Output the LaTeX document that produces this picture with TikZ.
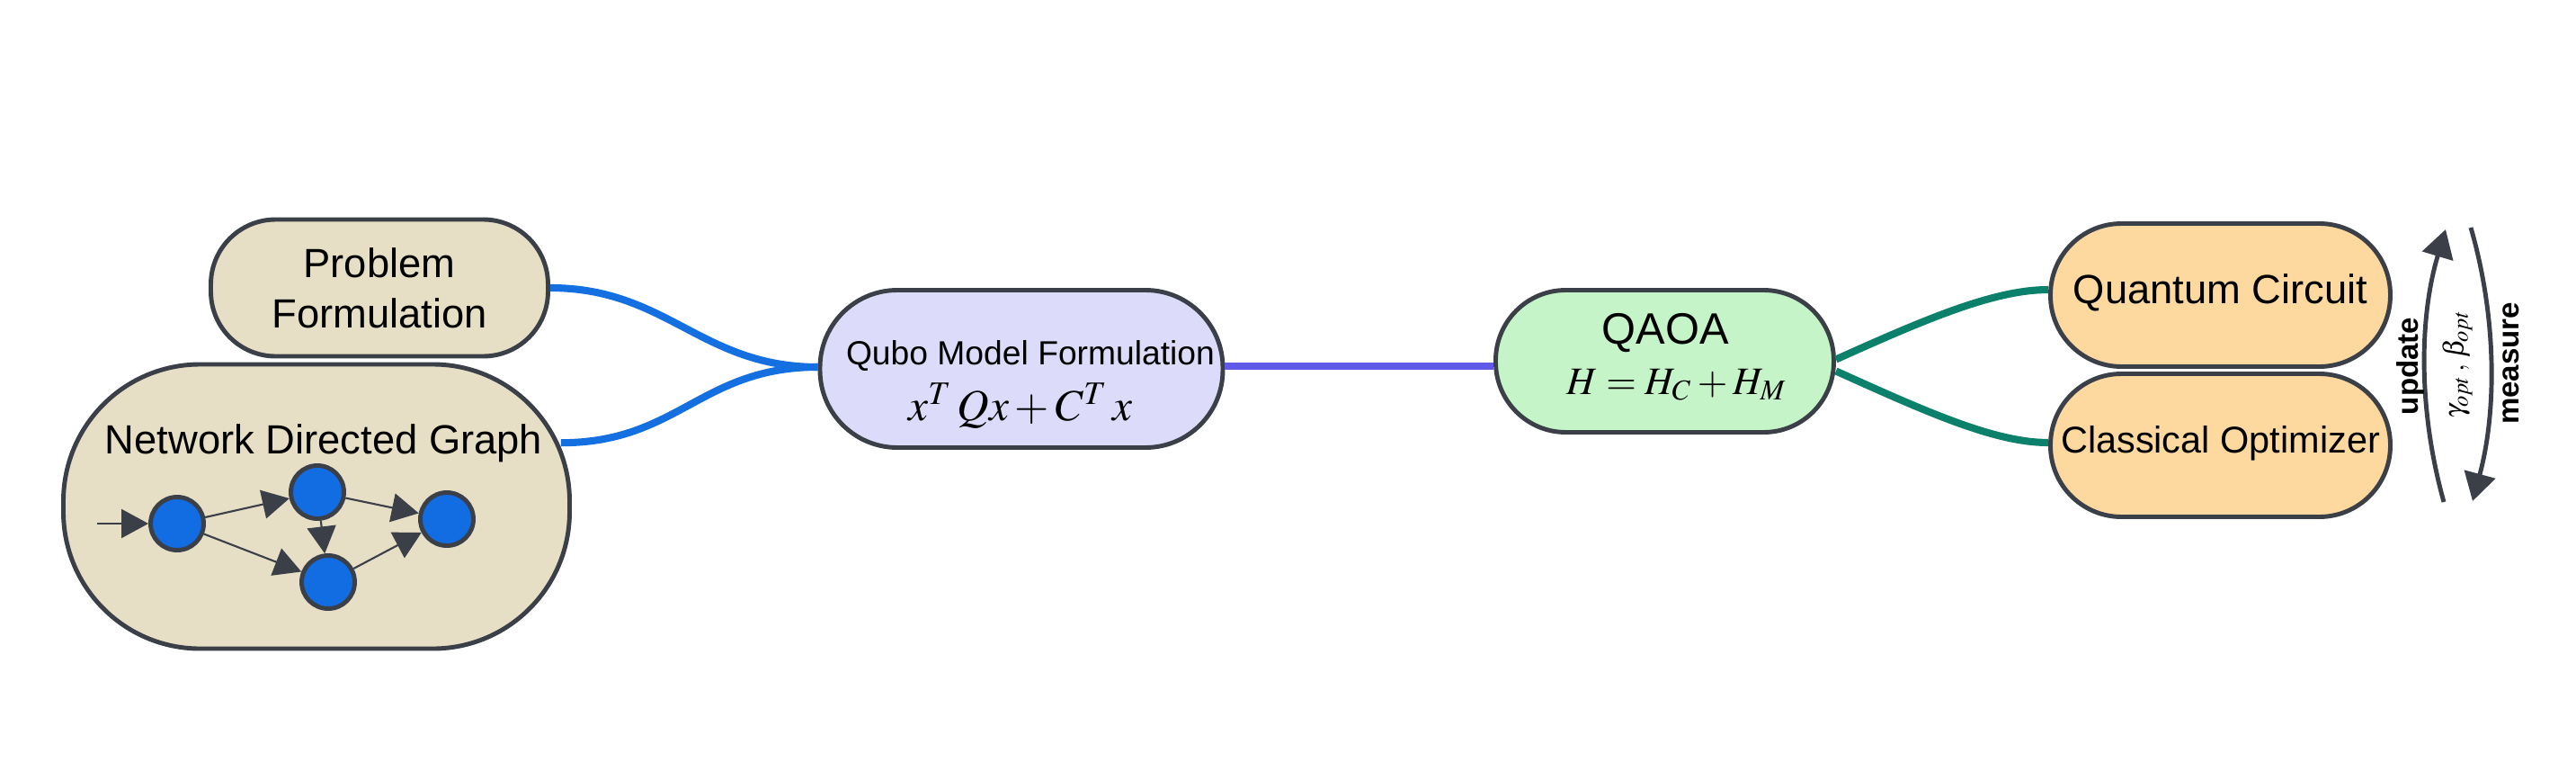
\documentclass[tikz,border=0pt]{standalone}
\usepackage{mathptmx}
\usepackage[no-math]{fontspec}
\setmainfont{Liberation Sans}
\usepackage{tikz}
\usetikzlibrary{arrows.meta,positioning,calc}

\definecolor{boxline}{HTML}{3A3F48}
\definecolor{sandfill}{HTML}{E6DFC6}
\definecolor{qubofill}{HTML}{DCDCFA}
\definecolor{qaoafill}{HTML}{C5F4C8}
\definecolor{loopfill}{HTML}{FDD9A0}
\definecolor{vertexblue}{HTML}{126CE2}
\definecolor{linkblue}{HTML}{1470E1}
\definecolor{linkpurple}{HTML}{5F5AE8}
\definecolor{linkteal}{HTML}{0B806A}

\tikzset{
  stadium/.style={rectangle, draw=boxline, line width=1.4pt, rounded corners=#1, inner sep=0pt},
  stadium/.default=0.75cm,
  vertex/.style={circle, draw=boxline, fill=vertexblue, line width=1.4pt, minimum size=0.59cm, inner sep=0pt},
  gedge/.style={draw=boxline, line width=0.6pt, -{Triangle[length=0.3cm,width=0.32cm]}},
  branch/.style={line width=2.3pt},
  loopline/.style={draw=boxline, line width=1.4pt, -{Triangle[length=0.31cm,width=0.35cm]}},
  bigtext/.style={font=\fontsize{12.9}{16}\selectfont},
  looptext/.style={font=\fontsize{9.4}{11}\selectfont\bfseries, rotate=90}
}

\begin{document}
\begin{tikzpicture}
			\useasboundingbox (0,0) rectangle (28.65,-8.57);
			% Input boxes
			\node[stadium=0.72cm, fill=sandfill, minimum width=3.75cm, minimum height=1.52cm, align=center, bigtext] (prob) at (4.22,-3.20) {Problem\\Formulation};
			\node[stadium=1.52cm, fill=sandfill, minimum width=5.63cm, minimum height=3.16cm] (net) at (3.52,-5.63) {};
			\node[anchor=base, bigtext] (netlabel) at (3.60,-5.04) {Network Directed Graph};
			% Small directed graph
			\node[vertex] (g1) at (1.97,-5.82) {};
			\node[vertex] (g2) at (3.53,-5.47) {};
			\node[vertex] (g3) at (4.97,-5.77) {};
			\node[vertex] (g4) at (3.65,-6.47) {};
			\coordinate (gin) at (1.08,-5.82);
			\draw[gedge] (gin) -- (g1);
			\draw[gedge] (g1) -- (g2);
			\draw[gedge] (g1) -- (g4);
			\draw[gedge] (g2) -- (g3);
			\draw[gedge] (g2) -- (g4);
			\draw[gedge] (g4) -- (g3);
			% Qubo model
			\node[stadium=0.86cm, fill=qubofill, minimum width=4.48cm, minimum height=1.75cm] (qubo) at (11.36,-4.10) {};
			\node[anchor=base, font=\fontsize{10.6}{13}\selectfont] (qubotitle) at (11.46,-4.05) {Qubo Model Formulation};
			\node[anchor=base, font=\fontsize{14}{17}\selectfont] (quboform) at (11.35,-4.67) {$x^T\, Q x + C^T\, x$};
			% QAOA
			\node[stadium=0.78cm, fill=qaoafill, minimum width=3.76cm, minimum height=1.58cm] (qaoa) at (18.515,-4.015) {};
			\node[anchor=base, font=\fontsize{13.9}{16}\selectfont] (qaoatitle) at (18.52,-3.82) {QAOA};
			\node[anchor=base, font=\fontsize{12.3}{15}\selectfont] (qaoaform) at (18.65,-4.38) {$H = H_C + H_M$};
			% Hybrid loop
			\node[stadium=0.79cm, fill=loopfill, minimum width=3.78cm, minimum height=1.59cm, text height=0.33cm, text depth=0.15cm, bigtext] (qc) at (24.695,-3.28) {Quantum Circuit};
			\node[stadium=0.79cm, fill=loopfill, minimum width=3.78cm, minimum height=1.59cm, text height=0.33cm, text depth=0.17cm, font=\fontsize{11.8}{14}\selectfont] (co) at (24.695,-4.95) {Classical Optimizer};
			% Links
			\draw[branch, linkblue] (prob.east) .. controls +(1.3,0) and +(-1.3,0) .. ([yshift=0.02cm]qubo.west);
			\draw[branch, linkblue] ([xshift=-0.12cm]net.14) .. controls +(1.3,0) and +(-1.3,0) .. ([yshift=0.02cm]qubo.west);
			\draw[branch, linkpurple] ([yshift=0.03cm]qubo.east) -- ([yshift=0.03cm]qubo.east -| qaoa.west);
			\draw[branch, linkteal] ([yshift=0.02cm]qaoa.east) .. controls +(1.0,0.45) and +(-0.6,0) .. ([yshift=0.06cm]qc.west);
			\draw[branch, linkteal] ([yshift=-0.11cm]qaoa.east) .. controls +(1.0,-0.45) and +(-0.6,0) .. ([yshift=0.03cm]co.west);
			% Update / measure arrows
			\coordinate (updlow) at (27.18,-5.58);
			\coordinate (updhigh) at (27.20,-2.55);
			\coordinate (meashigh) at (27.48,-2.53);
			\coordinate (measlow) at (27.50,-5.57);
			\draw[loopline] (updlow) .. controls (26.90,-4.58) and (26.90,-3.55) .. (updhigh);
			\draw[loopline] (meashigh) .. controls (27.77,-3.53) and (27.77,-4.57) .. (measlow);
			\node[looptext] (updlabel) at (26.81,-4.07) {update};
			\node[rotate=90, font=\fontsize{9}{11}\selectfont] (paramlabel) at (27.33,-4.05) {$\gamma_{opt}\,,\,\beta_{opt}$};
			\node[looptext] (measlabel) at (27.93,-4.04) {measure};
		\end{tikzpicture}
\end{document}
